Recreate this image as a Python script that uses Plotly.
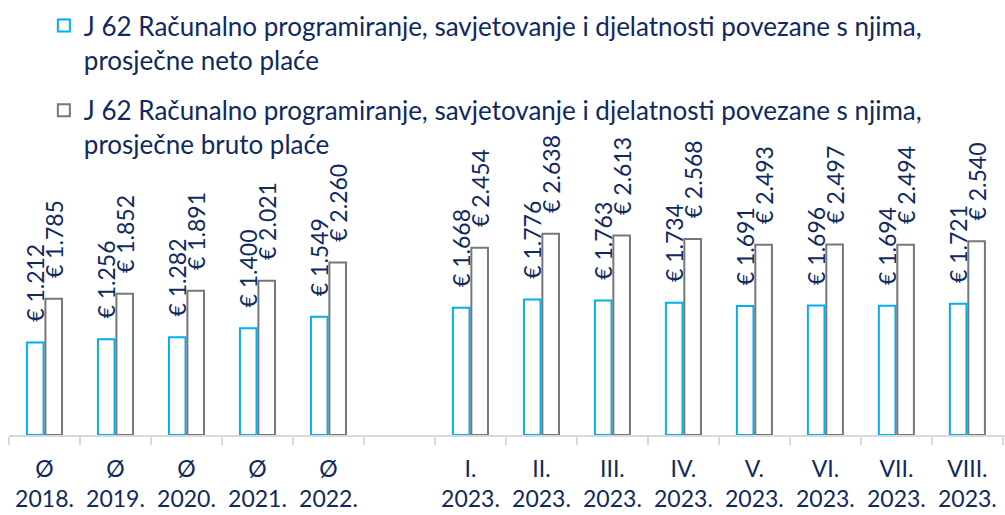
import plotly.graph_objects as go

# Kategorije: godišnji prosjeci i mjeseci 2023. (prazno mjesto između)
categories = ["Ø<br>2018.", "Ø<br>2019.", "Ø<br>2020.", "Ø<br>2021.", "Ø<br>2022.", "",
              "I.<br>2023.", "II.<br>2023.", "III.<br>2023.", "IV.<br>2023.",
              "V.<br>2023.", "VI.<br>2023.", "VII.<br>2023.", "VIII.<br>2023."]
neto = [1212, 1256, 1282, 1400, 1549, None, 1668, 1776, 1763, 1734, 1691, 1696, 1694, 1721]
bruto = [1785, 1852, 1891, 2021, 2260, None, 2454, 2638, 2613, 2568, 2493, 2497, 2494, 2540]

name_neto = "J 62 Računalno programiranje, savjetovanje i djelatnosti povezane s njima,<br>prosječne neto plaće"
name_bruto = "J 62 Računalno programiranje, savjetovanje i djelatnosti povezane s njima,<br>prosječne bruto plaće"

NAVY = "#10295F"
CYAN = "#00B0F0"
GREY = "#777777"
AXIS = "#D9D9D9"
FONT = "Lato"
PAD = "\u00a0\u00a0\u00a0"  # razmak između vrha stupca i oznake

pos = [i for i, v in enumerate(neto) if v is not None]

fig = go.Figure()
for name, vals, col, grp in [(name_neto, neto, CYAN, "a"), (name_bruto, bruto, GREY, "b")]:
    fig.add_trace(go.Bar(
        x=pos, y=[vals[i] for i in pos], name=name, legendgroup=grp,
        marker=dict(color="white", line=dict(color=col, width=2)),
        texttemplate=PAD + "€ %{y:,.0f}", textposition="outside", textangle=-90,
        constraintext="none", cliponaxis=False,
        textfont=dict(family=FONT, size=23, color=NAVY),
    ))

fig.update_layout(
    width=1005, height=515,
    margin=dict(l=9, r=0, t=0, b=80),
    paper_bgcolor="white", plot_bgcolor="white",
    separators=",.",
    barmode="group", bargap=0.48, bargroupgap=0.1,
    font=dict(family=FONT, color=NAVY),
    showlegend=True,
    legend=dict(x=0.035, y=0.995, xanchor="left", yanchor="top", valign="top",
                font=dict(family=FONT, size=26, color=NAVY),
                bgcolor="rgba(0,0,0,0)", tracegroupgap=14),
    xaxis=dict(
        range=[-0.5, 13.53], showgrid=False, zeroline=False,
        showline=True, linecolor=AXIS, linewidth=2,
        tickmode="array", tickvals=[i for i in range(14) if categories[i]],
        ticktext=[c for c in categories if c],
        ticks="outside", ticklen=0, ticklabelstandoff=12,
        tickfont=dict(family=FONT, size=23, color=NAVY),
        minor=dict(tickmode="array", tickvals=[i - 0.5 for i in range(15)],
                   ticks="outside", ticklen=8, tickcolor=AXIS, tickwidth=2, showgrid=False),
    ),
    yaxis=dict(range=[0, 5700], visible=False),
)

fig.write_html("out.html")
